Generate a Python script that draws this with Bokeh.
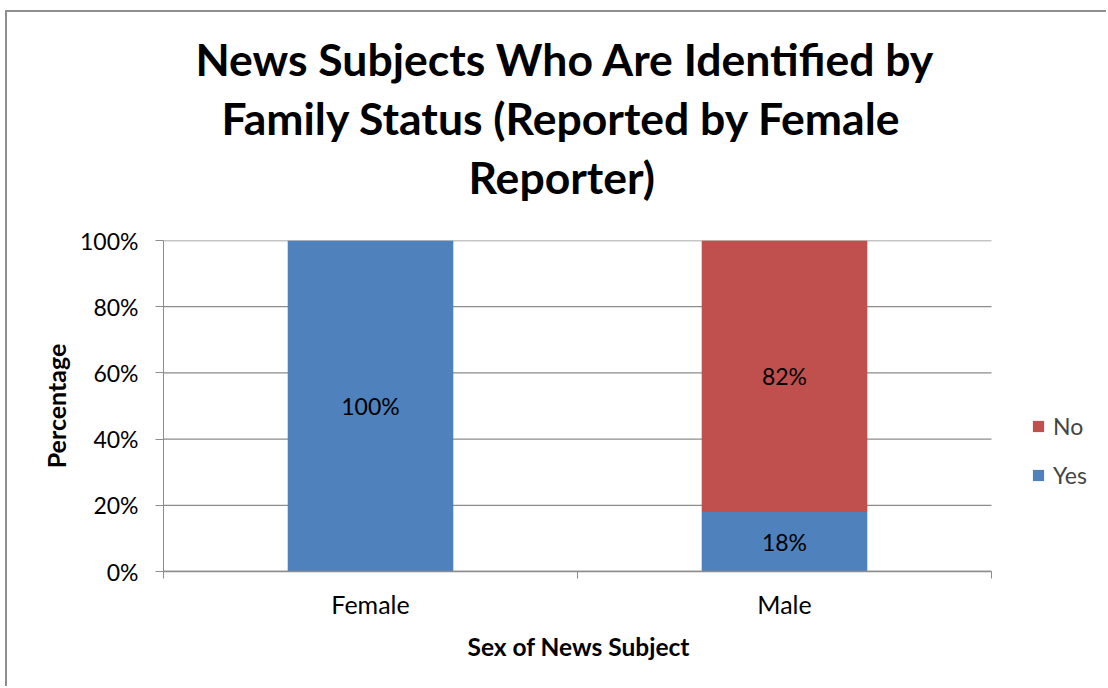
from bokeh.plotting import figure
from bokeh.models import (Range1d, FixedTicker, PrintfTickFormatter, Title,
                          Legend, LegendItem, ColumnDataSource)
from bokeh.core.properties import value
from bokeh.embed import file_html
from bokeh.resources import INLINE

# ---- data ----
categories = ["Female", "Male"]
yes_pct = [100, 18]
no_pct = [0, 82]
series = ["Yes", "No"]
y_ticks = [0, 20, 40, 60, 80, 100]
title_lines = ["News Subjects Who Are Identified by",
               "Family Status (Reported by Female",
               "Reporter)"]
x_title = "Sex of News Subject"
y_title = "Percentage"

FONT = "Lato"
BLUE = "#4F81BD"
RED = "#C0504D"
GRID = "#8c8c8c"

# layout (pixels)
FRAME_LEFT, PLOT_RIGHT, CANVAS_RIGHT = 163, 991, 1108
n = len(categories)
x_end = n * (CANVAS_RIGHT - FRAME_LEFT) / (PLOT_RIGHT - FRAME_LEFT)

x_pos = [i + 0.5 for i in range(n)]
src = ColumnDataSource(dict(x=x_pos, Yes=yes_pct, No=no_pct))

p = figure(width=1101, height=676, output_backend="svg", toolbar_location=None,
           x_range=Range1d(0, x_end), y_range=Range1d(0, 100),
           min_border_left=156, min_border_top=228, min_border_right=0,
           min_border_bottom=117)
p.styles = {"margin-left": "5px", "margin-top": "10px",
            "border-left": "2px solid #8e8e8e", "border-top": "2px solid #8e8e8e"}
p.outline_line_color = None
p.background_fill_color = "white"
p.border_fill_color = "white"

# horizontal gridlines limited to the category area
p.xgrid.visible = False
p.ygrid.visible = False
p.segment(x0=[0] * len(y_ticks), x1=[n] * len(y_ticks), y0=y_ticks, y1=y_ticks,
          line_color=GRID, line_width=1.3)

rs = p.vbar_stack(series, x="x", width=0.4, source=src, color=[BLUE, RED],
                  line_color=None)

# y axis
p.yaxis.ticker = FixedTicker(ticks=y_ticks)
p.yaxis.formatter = PrintfTickFormatter(format="%d%%")
p.yaxis.minor_tick_line_color = None
p.yaxis.major_tick_out = 8
p.yaxis.major_tick_in = 0
p.yaxis.axis_line_color = GRID
p.yaxis.major_tick_line_color = GRID
p.yaxis.major_label_text_font = FONT
p.yaxis.major_label_text_font_size = "23px"
p.yaxis.major_label_text_color = "black"
p.yaxis.major_label_standoff = 17
p.yaxis.axis_label = y_title
p.yaxis.axis_label_text_font = FONT
p.yaxis.axis_label_text_font_size = "25px"
p.yaxis.axis_label_text_font_style = "bold"
p.yaxis.axis_label_text_color = "black"
p.yaxis.axis_label_standoff = 6

# x axis
p.xaxis.bounds = (0, n)
p.xaxis.ticker = FixedTicker(ticks=x_pos, minor_ticks=[float(i) for i in range(n + 1)])
p.xaxis.major_label_overrides = {x: c for x, c in zip(x_pos, categories)}
p.xaxis.major_tick_line_color = None
p.xaxis.minor_tick_line_color = GRID
p.xaxis.minor_tick_out = 7
p.xaxis.minor_tick_in = 0
p.xaxis.axis_line_color = GRID
p.xaxis.axis_line_width = 1.3
p.xaxis.major_label_text_font = FONT
p.xaxis.major_label_text_font_size = "25px"
p.xaxis.major_label_text_color = "black"
p.xaxis.major_label_standoff = 10

# x-axis title, centred under the category area
p.add_layout(Title(text=x_title, align="left", offset=304, vertical_align="top",
                   text_font=FONT, text_font_size="24.5px",
                   text_font_style="bold", text_color="black",
                   standoff=20), "below")

# data labels
lx, ly, lt = [], [], []
for x, y, m in zip(x_pos, yes_pct, no_pct):
    if y > 0:
        lx.append(x); ly.append(y / 2); lt.append(f"{y}%")
    if m > 0:
        lx.append(x); ly.append(y + m / 2); lt.append(f"{m}%")
p.text(x=lx, y=ly, text=lt, text_align="center", text_baseline="middle",
       text_font=value(FONT), text_font_size="23px", text_color="black")

# title: spacer next to the frame, then lines from the frame outward
p.add_layout(Title(text=" ", text_font_size="10px", standoff=23), "above")
title_offsets = [32, 58, 305]
for t, off in reversed(list(zip(title_lines, title_offsets))):
    p.add_layout(Title(text=t, align="left", offset=off,
                       text_font=FONT, text_font_size="44.5px",
                       text_font_style="bold", text_color="black",
                       standoff=4), "above")

legend = Legend(items=[LegendItem(label="No", renderers=[rs[1]]),
                       LegendItem(label="Yes", renderers=[rs[0]])],
                location=(868, 82), glyph_width=14, glyph_height=14,
                label_text_font=FONT, label_text_font_size="23px",
                label_standoff=8, spacing=21, padding=0, margin=0,
                border_line_color=None, background_fill_alpha=0)
p.add_layout(legend, "center")

open("out.html", "w").write(file_html(p, INLINE))
